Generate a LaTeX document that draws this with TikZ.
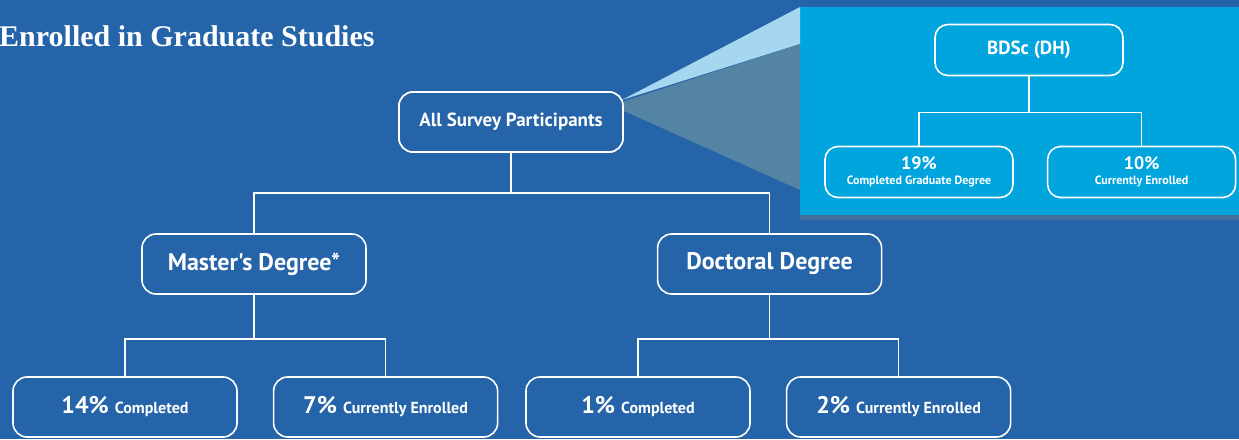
\documentclass[tikz,border=0pt]{standalone}
\usepackage{fontspec}
\newfontfamily\boxfont{PT Sans}
\newfontfamily\headfont{Liberation Serif}
\usetikzlibrary{positioning, shadows, calc}

\definecolor{bgblue}{RGB}{37,100,168}
\definecolor{insetblue}{RGB}{0,165,222}
\definecolor{wedgelight}{RGB}{165,215,240}
\definecolor{wedgedark}{RGB}{84,132,163}

\newcommand{\pctbig}{\fontsize{24}{27}\selectfont}
\newcommand{\pctword}{\fontsize{16}{18}\selectfont}

\begin{document}
\begin{tikzpicture}[x=1pt, y=-1pt]
    \tikzset{
        box/.style = {rectangle, rounded corners=14pt, draw=white, line width=1.6pt, fill=bgblue, text=white, minimum width=224pt, minimum height=60pt, inner sep=0pt, font=\boxfont\bfseries},
        minibox/.style = {box, fill=insetblue, minimum width=188pt, minimum height=51pt, rounded corners=13pt},
        link/.style = {draw=white, line width=1.6pt}
    }
    \fill[bgblue] (0,0) rectangle (1239,439);
    \useasboundingbox (0,0) rectangle (1239,439);

    \node[anchor=base west, text=white, font=\headfont\bfseries\fontsize{30}{33}\selectfont, inner sep=0pt] (title) at (-1,46) {Enrolled in Graduate Studies};

    % zoom-in panel
    \coordinate (paneltl) at (800,7);
    \coordinate (panelbr) at (1245,215);
    \fill[insetblue, drop shadow={shadow xshift=0pt, shadow yshift=-5pt, opacity=0.35}] (paneltl) rectangle (panelbr);
    \coordinate (panelsplit) at (800,44);
    \coordinate (panellow) at (800,190);

    \node[box] (all) at (511,122) {\fontsize{19}{21}\selectfont All Survey Participants};
    \fill[wedgelight] ($(all.east)+(-2,-22)$) -- (paneltl) -- (panelsplit) -- cycle;
    \fill[wedgedark] ($(all.east)+(-2,-20)$) -- (panelsplit) -- (panellow) -- ($(all.east)+(-2,-12)$) -- cycle;
    \node[box] at (all) {\fontsize{19}{21}\selectfont All Survey Participants};

    \node[box] (mast) at (254,264) {\fontsize{24}{27}\selectfont Master's Degree*};
    \node[box, right=290pt of mast] (doct) {\fontsize{24}{27}\selectfont Doctoral Degree};

    \node[box] (mcomp) at (125,407) {\pctbig 14\% \pctword Completed};
    \node[box, right=35pt of mcomp] (menrol) {\pctbig 7\% \pctword Currently Enrolled};
    \node[box] (dcomp) at (638,407) {\pctbig 1\% \pctword Completed};
    \node[box, right=35pt of dcomp] (denrol) {\pctbig 2\% \pctword Currently Enrolled};

    \node[minibox] (bdsc) at (1029,50) {\fontsize{19}{21}\selectfont BDSc (DH)};
    \node[minibox, align=center] (bcomp) at (919,172) {{\fontsize{18}{18}\selectfont 19\%}\\[3pt]{\fontsize{12}{12}\selectfont Completed Graduate Degree}};
    \node[minibox, align=center, right=33pt of bcomp] (benrol) {{\fontsize{18}{18}\selectfont 10\%}\\[3pt]{\fontsize{12}{12}\selectfont Currently Enrolled}};

    \path[link] (all.south) -- ++(0,40) -| (mast.north);
    \path[link] (all.south) -- ++(0,40) -| (doct.north);
    \path[link] (mast.south) -- ++(0,44) -| (mcomp.north);
    \path[link] (mast.south) -- ++(0,44) -| (menrol.north);
    \path[link] (doct.south) -- ++(0,44) -| (dcomp.north);
    \path[link] (doct.south) -- ++(0,44) -| (denrol.north);
    \path[link] (bdsc.south) -- ++(0,36) -| (bcomp.north);
    \path[link] (bdsc.south) -- ++(0,36) -| (benrol.north);
\end{tikzpicture}
\end{document}
